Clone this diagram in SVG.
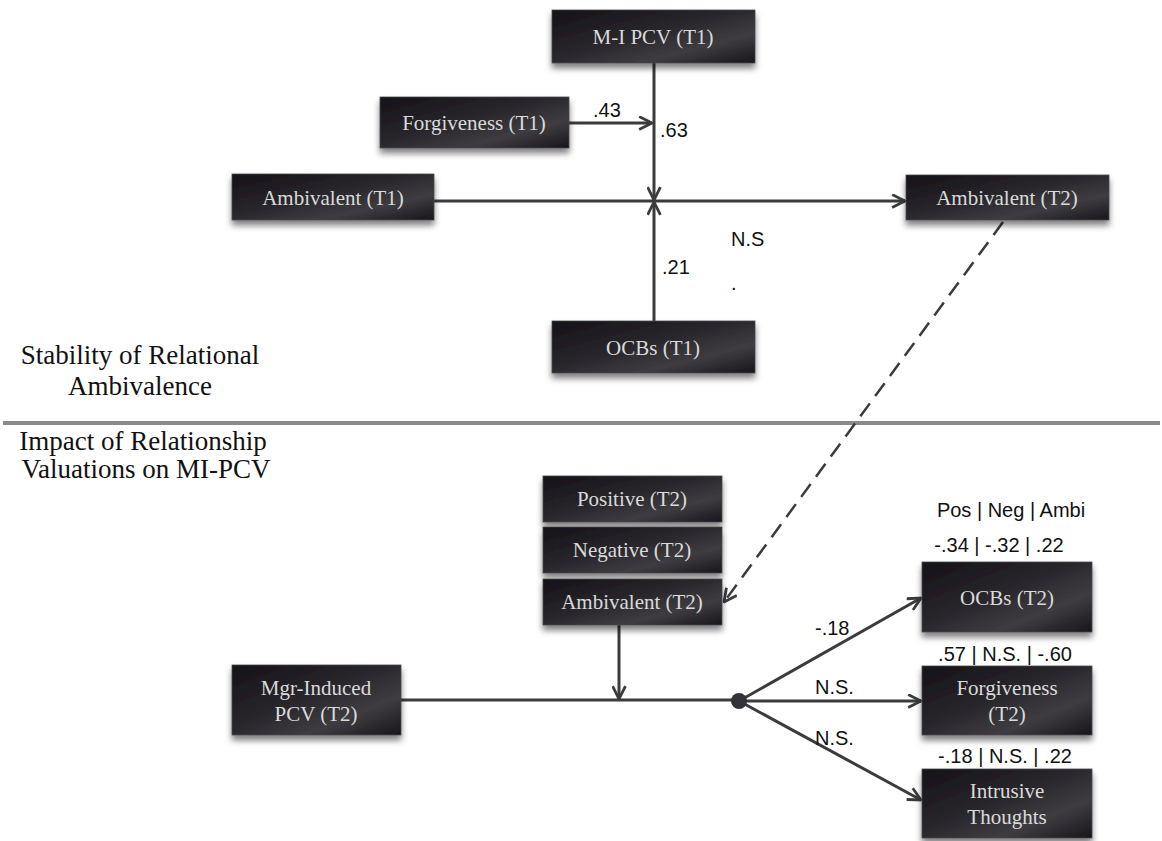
<svg xmlns="http://www.w3.org/2000/svg" width="1162" height="841" viewBox="0 0 1162 841">
  <style>
    .box { fill: url(#boxFill); stroke: #4a484c; stroke-width: 0.8; filter: url(#shadow); }
    .btxt { font-family: "Liberation Serif", "DejaVu Serif", serif; font-size: 21px; fill: #dadada; text-anchor: middle; }
    .num { font-family: "Liberation Sans", Arial, sans-serif; font-size: 20px; fill: #111; }
    .side { font-family: "Liberation Serif", "Times New Roman", serif; font-size: 27px; fill: #111; text-anchor: middle; }
    .edge { stroke: #3b3b3d; stroke-width: 3; fill: none; }
    .dash { stroke-dasharray: 16 9; stroke-width: 2.5; }
  </style>
  <defs>
    <linearGradient id="boxFill" x1="0" y1="0" x2="1" y2="1">
      <stop offset="0" stop-color="#141217"/>
      <stop offset="0.45" stop-color="#29272c"/>
      <stop offset="0.72" stop-color="#3e3c41"/>
      <stop offset="1" stop-color="#18161b"/>
    </linearGradient>
    <filter id="shadow" x="-10%" y="-20%" width="120%" height="160%">
      <feDropShadow dx="0" dy="5" stdDeviation="3" flood-color="#000" flood-opacity="0.5"/>
    </filter>
    <filter id="soft" x="-5%" y="-200%" width="110%" height="500%">
      <feGaussianBlur stdDeviation="2"/>
    </filter>
    <marker id="arrow" viewBox="0 0 14 14" refX="13" refY="7" markerWidth="15" markerHeight="15" markerUnits="userSpaceOnUse" orient="auto">
      <path d="M1,1 L13,7 L1,13" fill="none" stroke="#3b3b3d" stroke-width="2.6" stroke-linejoin="miter"/>
    </marker>
  </defs>

  <!-- section divider -->
  <g id="divider">
    <line x1="3" y1="429" x2="1160" y2="429" stroke="#bdbdbd" stroke-width="4" filter="url(#soft)"/>
    <line x1="3" y1="423" x2="1160" y2="423" stroke="#8a8a8c" stroke-width="4"/>
  </g>

  <!-- section captions -->
  <g id="caption-top">
    <text class="side" x="140" y="364">Stability of Relational</text>
    <text class="side" x="140" y="395">Ambivalence</text>
  </g>
  <g id="caption-bottom">
    <text class="side" x="143" y="450">Impact of Relationship</text>
    <text class="side" x="146" y="478">Valuations on MI-PCV</text>
  </g>

  <!-- connectors -->
  <g id="connectors">
    <line class="edge" x1="654" y1="63" x2="654" y2="200" marker-end="url(#arrow)"/>
    <line class="edge" x1="569" y1="123" x2="652" y2="123" marker-end="url(#arrow)"/>
    <line class="edge" x1="434" y1="201" x2="905" y2="201" marker-end="url(#arrow)"/>
    <line class="edge" x1="654" y1="321" x2="654" y2="202" marker-end="url(#arrow)"/>
    <line class="edge dash" x1="1003" y1="222" x2="724" y2="602" marker-end="url(#arrow)"/>
    <line class="edge" x1="619" y1="625" x2="619" y2="699" marker-end="url(#arrow)"/>
    <line class="edge" x1="401" y1="700" x2="739" y2="700"/>
    <line class="edge" x1="739" y1="701" x2="921" y2="598" marker-end="url(#arrow)"/>
    <line class="edge" x1="739" y1="701" x2="921" y2="701" marker-end="url(#arrow)"/>
    <line class="edge" x1="739" y1="701" x2="921" y2="800" marker-end="url(#arrow)"/>
    <circle cx="739" cy="701" r="8" fill="#333236"/>
  </g>

  <!-- path coefficients -->
  <g id="labels">
    <text class="num" x="593" y="117">.43</text>
    <text class="num" x="660" y="137">.63</text>
    <text class="num" x="662" y="274">.21</text>
    <text class="num" x="731" y="246">N.S</text>
    <text class="num" x="731" y="290">.</text>
    <text class="num" x="815" y="635">-.18</text>
    <text class="num" x="815" y="694">N.S.</text>
    <text class="num" x="815" y="745">N.S.</text>
    <text class="num" x="1011" y="517" text-anchor="middle">Pos | Neg | Ambi</text>
    <text class="num" x="999" y="552" text-anchor="middle">-.34 | -.32 | .22</text>
    <text class="num" x="1005" y="661" text-anchor="middle">.57 | N.S. | -.60</text>
    <text class="num" x="1005" y="763" text-anchor="middle">-.18 | N.S. | .22</text>
  </g>

  <!-- nodes: stability model -->
  <g id="mi-pcv-t1">
    <rect class="box" x="552" y="10" width="203" height="53"/>
    <text class="btxt" x="653" y="44">M-I PCV (T1)</text>
  </g>
  <g id="forgiveness-t1">
    <rect class="box" x="380" y="97" width="189" height="51"/>
    <text class="btxt" x="474" y="130">Forgiveness (T1)</text>
  </g>
  <g id="ambivalent-t1">
    <rect class="box" x="232" y="174" width="202" height="46"/>
    <text class="btxt" x="333" y="205">Ambivalent (T1)</text>
  </g>
  <g id="ambivalent-t2-top">
    <rect class="box" x="906" y="175" width="203" height="45"/>
    <text class="btxt" x="1007" y="205">Ambivalent (T2)</text>
  </g>
  <g id="ocbs-t1">
    <rect class="box" x="552" y="321" width="203" height="52"/>
    <text class="btxt" x="653" y="355">OCBs (T1)</text>
  </g>

  <!-- nodes: valuation model -->
  <g id="positive-t2">
    <rect class="box" x="543" y="476" width="179" height="46"/>
    <text class="btxt" x="632" y="506">Positive (T2)</text>
  </g>
  <g id="negative-t2">
    <rect class="box" x="543" y="527" width="179" height="46"/>
    <text class="btxt" x="632" y="557">Negative (T2)</text>
  </g>
  <g id="ambivalent-t2">
    <rect class="box" x="543" y="579" width="179" height="46"/>
    <text class="btxt" x="632" y="609">Ambivalent (T2)</text>
  </g>
  <g id="mgr-induced-pcv-t2">
    <rect class="box" x="232" y="665" width="169" height="70"/>
    <text class="btxt" x="316" y="695">Mgr-Induced</text>
    <text class="btxt" x="316" y="721">PCV (T2)</text>
  </g>
  <g id="ocbs-t2">
    <rect class="box" x="922" y="562" width="170" height="70"/>
    <text class="btxt" x="1007" y="605">OCBs (T2)</text>
  </g>
  <g id="forgiveness-t2">
    <rect class="box" x="922" y="666" width="170" height="69"/>
    <text class="btxt" x="1007" y="695">Forgiveness</text>
    <text class="btxt" x="1007" y="721">(T2)</text>
  </g>
  <g id="intrusive-thoughts">
    <rect class="box" x="922" y="769" width="170" height="69"/>
    <text class="btxt" x="1007" y="798">Intrusive</text>
    <text class="btxt" x="1007" y="824">Thoughts</text>
  </g>
</svg>
